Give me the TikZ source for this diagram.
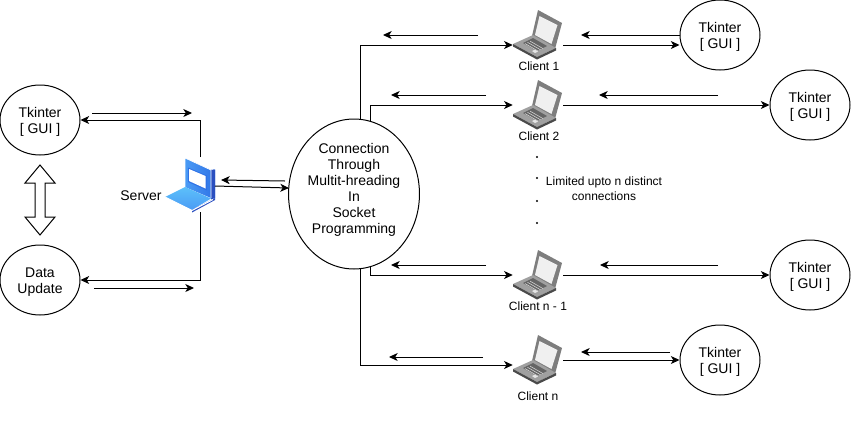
\documentclass[tikz,border=0pt]{standalone}
\usepackage{fontspec}
\setmainfont{Liberation Sans}
\usetikzlibrary{arrows.meta,shapes.geometric}
\definecolor{lapgrey}{HTML}{7E7E7E}
\definecolor{lappale}{HTML}{A0A0A0}
\definecolor{lapdark}{HTML}{4A4A4A}
\definecolor{lapblue}{HTML}{4A9BF5}
\definecolor{lapmid}{HTML}{2F72E6}
\definecolor{lapdeep}{HTML}{2A4FC0}
\definecolor{lapsky}{HTML}{5CC0FA}
\newcommand{\blobtext}[2][-4.5pt]{\smash{\raisebox{#1}{\begin{tabular}{@{}c@{}}#2\end{tabular}}}}
\tikzset{
  >={Stealth[length=6.5pt,width=6pt,inset=1.8pt]},
  wire/.style={->,line width=0.75pt},
  blob/.style={draw,ellipse,line width=0.75pt,inner sep=0pt,align=center,font=\fontsize{10.5}{12}\selectfont},
  guiblob/.style={blob,minimum width=60pt,minimum height=52.5pt},
  tag/.style={align=center,inner sep=0pt,font=\fontsize{9}{11.5}\selectfont},
  lapslot/.style={inner sep=0pt,minimum width=37.5pt,minimum height=15pt},
  clientlap/.pic={
    \fill[lapgrey] (0,-25) -- (24,-12) -- (17,14) -- (-6,1) -- cycle;
    \fill[white!94!black] (1.5,-19) -- (19.5,-10) -- (13.5,9) -- (-3,0) -- cycle;
    \fill[lappale] (-25,9) -- (-5,0) -- (18,13) -- (-1,22) -- cycle;
    \fill[lapdark] (-25,9) -- (-1,22) -- (18,13) -- (18,15.5) -- (-1,24.5) -- (-25,11.5) -- cycle;
    \fill[lapdark!85] (-15,8) -- (-5,3) -- (9,11) -- (-1,16) -- cycle;
    \foreach \k in {0,1,2}
      \draw[white!85!black,line width=0.4pt] (-13+\k*2.5,8.5-\k*1.2) -- (0+\k*2.5,16-\k*1.2);
    \fill[white!90!black] (-6,16) -- (-3,14.5) -- (0,16.5) -- (-3,18) -- cycle;
  },
  serverlap/.pic={
    \shade[left color=lapblue,right color=lapmid] (-5,-26.5) -- (21,-14.5) -- (25,-15) -- (25,13.5) -- (21,13.5) -- (-5,2.5) -- cycle;
    \fill[lapdeep] (21,-14.5) -- (25,-15) -- (25,13.5) -- (21,15) -- cycle;
    \draw[white,line width=0.5pt] (-5,2.5) -- (-5,-26.5) -- (21,-14.5) -- (21,13.5);
    \fill[lapmid] (-2,-17) -- (17,-9) -- (17,6) -- (-2,-2.5) -- cycle;
    \fill[white] (-1,-15.5) -- (15.5,-8.5) -- (15.5,4) -- (-1,-3.5) -- cycle;
    \shade[top color=lapsky,bottom color=lapblue] (-25,12.5) -- (-5,2.5) -- (21,14) -- (2,25.5) -- cycle;
    \fill[lapdeep] (2,25.5) -- (25,13.5) -- (25,15.5) -- (2,28) -- cycle;
    \draw[white,line width=0.75pt] (-25,12.5) -- (2,26) -- (23,15);
  }
}
\begin{document}
\begin{tikzpicture}[x=0.75pt,y=-0.75pt]
  \useasboundingbox (0,0) rectangle (851,426);
  % left side
  \node[guiblob] (guiserver) at (40,120) {\blobtext{Tkinter\\{[} GUI {]}}};
  \node[guiblob] (dataupdate) at (40,280) {\blobtext{Data\\Update}};
  \draw[line width=0.75pt,fill=white] (40,165) -- (55,183) -- (45,183) -- (45,217) -- (55,217) -- (40,235) -- (25,217) -- (35,217) -- (35,183) -- (25,183) -- cycle;
  \node[lapslot] (server) at (190,184.5) {};
  \node[tag,font=\fontsize{10.5}{12}\selectfont] (serverlabel) at (141,196) {Server};
  % middle
  \node[blob,minimum width=97.5pt,minimum height=112.5pt] (hub) at (354,194) {\blobtext[0pt]{Connection\\Through\\Multit-hreading\\In\\Socket\\Programming}};
  \coordinate (serverup) at (200,157);
  \coordinate (serverdown) at (200,212);
  \draw[wire] (serverup) |- (guiserver.east);
  \draw[wire] (serverdown) |- (dataupdate.east);
  % clients
  \node[lapslot] (client1) at (538,45) {};
  \node[lapslot] (client2) at (538,105) {};
  \node[lapslot] (clientm) at (538,275) {};
  \node[lapslot] (clientn) at (538,365) {};
  \node[tag] (label1) at (539,66) {Client 1};
  \node[tag] (label2) at (539,136) {Client 2};
  \node[tag] (labelm) at (538,306) {Client n - 1};
  \node[tag] (labeln) at (538,396) {Client n};
  \pic at (538,35) {clientlap};
  \pic at (538,105) {clientlap};
  \pic at (538,275) {clientlap};
  \pic at (538,360) {clientlap};
  \pic at (190,184.5) {serverlap};
  \node[guiblob] (gui1) at (720,35) {\blobtext{Tkinter\\{[} GUI {]}}};
  \node[guiblob] (gui2) at (810,105) {\blobtext{Tkinter\\{[} GUI {]}}};
  \node[guiblob] (guim) at (810,275) {\blobtext{Tkinter\\{[} GUI {]}}};
  \node[guiblob] (guin) at (720,360) {\blobtext{Tkinter\\{[} GUI {]}}};
  \draw[wire] (hub.85) |- (client1.west);
  \draw[wire] (hub.77) |- (client2.west);
  \draw[wire] (hub.283) |- (clientm.west);
  \draw[wire] (hub.275) |- (clientn.west);
  \draw[wire] (client1.east) -- (gui1.west |- client1.east);
  \draw[wire] (client2.east) -- (gui2.west |- client2.east);
  \draw[wire] (clientm.east) -- (guim.west);
  \coordinate (clientnout) at (563,360);
  \draw[wire] (clientnout) -- (guin.west);
  \coordinate (serverout) at (215,186);
  \coordinate (serverin) at (221,180);
  \coordinate (hubin) at (289,188);
  \coordinate (hubout) at (285,181);
  \draw[wire] (serverout) -- (hubin);
  \draw[wire] (hubout) -- (serverin);
  % return arrows
  \foreach \nm/\xa/\xb/\yy in {a/92/192/113,b/94/194/288,c/478/383/35,d/486/391/95,e/486/391/265,f/483/389/357,g/680/581/35,h/718/599/95,i/718/600/265,j/670/581/352} {
    \coordinate (\nm from) at (\xa,\yy);
    \coordinate (\nm to) at (\xb,\yy);
    \draw[wire] (\nm from) -- (\nm to);
  }
  % limit note
  \foreach \nm/\yy in {p/157,q/178,r/201,s/223}
    \node[circle,fill,inner sep=0pt,minimum size=1.8pt] (dot\nm) at (537,\yy) {};
  \node[tag] (limitnote) at (604,189) {Limited upto n distinct\\connections};
\end{tikzpicture}
\end{document}
